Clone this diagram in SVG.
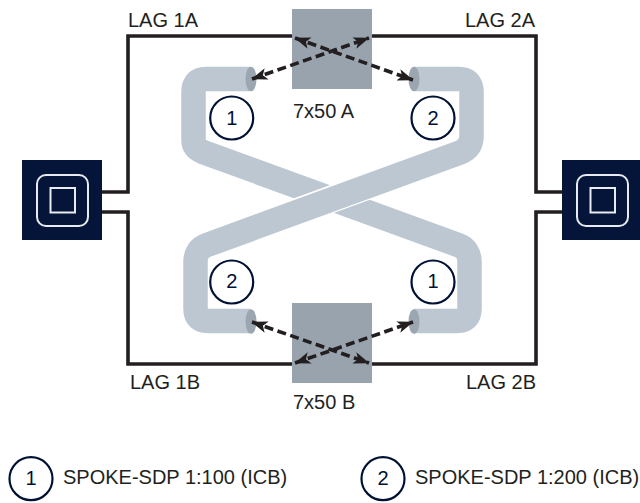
<svg xmlns="http://www.w3.org/2000/svg" width="640" height="503" viewBox="0 0 640 503">
<style>
text{font-family:"Liberation Sans",Arial,sans-serif;font-size:20px;fill:#231f20}
.n{fill:#001135;text-anchor:middle}
.c{fill:none;stroke:#001135;stroke-width:2.2}
.tube{fill:none;stroke:#bcc7d2;stroke-width:24.5}
.gap{fill:none;stroke:#fff;stroke-width:27.5}
.cap{fill:#9ba6b0}
.link{fill:none;stroke:#231f20;stroke-width:3.6}
.arr{fill:none;stroke:#231f20;stroke-width:3.6;stroke-dasharray:9 4.5;marker-start:url(#a);marker-end:url(#a)}
.box{fill:#98a3ae}
.dev{fill:#041539}
.w{fill:none;stroke:#e8ebef;stroke-width:2}
</style>
<defs>
<marker id="a" viewBox="0 0 16 12" refX="15.5" refY="6" markerWidth="16" markerHeight="12" markerUnits="userSpaceOnUse" orient="auto-start-reverse">
<path d="M16 6L0 0L4 6L0 12Z" fill="#231f20"/>
</marker>
</defs>
<g id="connectors">
<path class="link" d="M102 192H128V36H292M372 36H536V192H562M102 212H128V364H292M372 364H536V212H562"/>
</g>
<g id="tubes">
<path id="tube-1" class="tube" d="M250 79H206Q193.5 79 193.5 92V140Q193.5 148 203 152L458 245Q469.5 249 469.5 262V309Q469.5 321 457 321H414"/>
<path class="gap" d="M270 221.700L400 174.200"/>
<path id="tube-2" class="tube" d="M250 321H208Q195.5 321 195.5 309V262Q195.500 249 207 245L460 152.500Q471.500 148 471.500 136V92Q471.500 79 459 79H414"/>
<ellipse class="cap" cx="251" cy="79" rx="5.500" ry="12.200"/>
<ellipse class="cap" cx="414" cy="79" rx="5.500" ry="12.200"/>
<ellipse class="cap" cx="251" cy="321.500" rx="5.500" ry="12.200"/>
<ellipse class="cap" cx="414" cy="321.500" rx="5.500" ry="12.200"/>
</g>
<g id="node-7x50A"><rect class="box" x="292" y="9" width="80" height="80"/><text x="293" y="117.500">7x50 A</text></g>
<g id="node-7x50B"><rect class="box" x="292" y="303" width="80" height="80"/><text x="293" y="409">7x50 B</text></g>
<g id="arrows">
<path class="arr" d="M252 79L369 38"/>
<path class="arr" d="M295 38L413 80"/>
<path class="arr" d="M252 322L369 363"/>
<path class="arr" d="M295 363L413 322"/>
</g>
<g id="node-left"><rect class="dev" x="22" y="160" width="80" height="80"/><rect class="w" x="37" y="175" width="51" height="51" rx="9"/><rect class="w" x="50.500" y="188" width="24.500" height="24.500"/></g>
<g id="node-right"><rect class="dev" x="562" y="160" width="80" height="80"/><rect class="w" x="577" y="175" width="51" height="51" rx="9"/><rect class="w" x="590.500" y="188" width="24.500" height="24.500"/></g>
<g id="labels">
<text x="128" y="27">LAG 1A</text>
<text x="465" y="27">LAG 2A</text>
<text x="130" y="389">LAG 1B</text>
<text x="466" y="389">LAG 2B</text>
</g>
<g id="badge-1a"><circle class="c" cx="231.700" cy="118" r="21.500"/><text class="n" x="231.700" y="124.500">1</text></g>
<g id="badge-2a"><circle class="c" cx="433" cy="118" r="21.500"/><text class="n" x="433" y="124.500">2</text></g>
<g id="badge-2b"><circle class="c" cx="231.700" cy="282" r="21.500"/><text class="n" x="231.700" y="288">2</text></g>
<g id="badge-1b"><circle class="c" cx="433" cy="282" r="21.500"/><text class="n" x="433" y="288">1</text></g>
<g id="legend-1"><circle class="c" cx="31" cy="478.700" r="21.500"/><text class="n" x="31" y="484.500">1</text><text x="63" y="484">SPOKE-SDP 1:100 (ICB)</text></g>
<g id="legend-2"><circle class="c" cx="383" cy="478.700" r="21.500"/><text class="n" x="383" y="484.500">2</text><text x="415" y="484">SPOKE-SDP 1:200 (ICB)</text></g>
</svg>
